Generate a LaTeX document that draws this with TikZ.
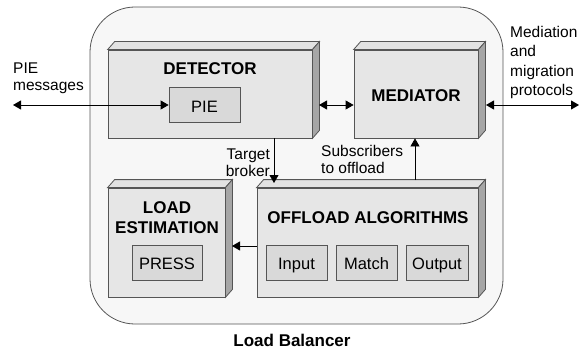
\documentclass[tikz,border=0pt]{standalone}
\usepackage{fontspec}
\setmainfont{Liberation Sans}
\usetikzlibrary{arrows.meta}
\definecolor{bgc}{HTML}{F7F7F7}
\definecolor{facec}{HTML}{E6E6E6}
\definecolor{topc}{HTML}{E2E2E2}
\definecolor{sidec}{HTML}{A6A6A6}
\definecolor{innerc}{HTML}{D9D9D9}
\definecolor{linec}{HTML}{555555}
\tikzset{
  box3d/.style={draw=linec, fill=facec, line width=0.8pt, inner sep=0pt},
  innerbox/.style={draw=linec, fill=innerc, line width=0.8pt, inner sep=0pt, font=\fontsize{16.5}{18}\selectfont},
  boldtxt/.style={font=\fontsize{17}{20}\selectfont\bfseries, inner sep=0pt},
  lbl/.style={font=\fontsize{15.5}{17}\selectfont, inner sep=0pt},
  conn/.style={line width=0.8pt, -{Triangle[length=8pt,width=9pt]}},
  bconn/.style={line width=0.8pt, {Triangle[length=8pt,width=9pt]}-{Triangle[length=8pt,width=9pt]}},
}
\newcommand{\faces}[1]{%
  \fill[topc,draw=linec,line width=0.8pt] (#1.north west) -- ([shift={(7,-8)}]#1.north west) -- ([shift={(7,-8)}]#1.north east) -- (#1.north east) -- cycle;
  \fill[sidec,draw=linec,line width=0.8pt] (#1.north east) -- ([shift={(7,-8)}]#1.north east) -- ([shift={(7,-8)}]#1.south east) -- (#1.south east) -- cycle;
}
\begin{document}
\begin{tikzpicture}[x=1pt,y=-1pt]
\useasboundingbox (0,0) rectangle (580,350);
% outer
\node[draw=linec, fill=bgc, line width=0.8pt, rounded corners=45pt, minimum width=413pt, minimum height=317pt, inner sep=0pt] (lb) at (296.5,165.5) {};
% boxes
\node[box3d, minimum width=204pt, minimum height=88pt] (det) at (210,94) {};
\faces{det}
\node[box3d, minimum width=124pt, minimum height=88pt] (med) at (416,94) {};
\faces{med}
\node[box3d, minimum width=117pt, minimum height=109pt] (lest) at (166.5,242.5) {};
\faces{lest}
\node[box3d, minimum width=221pt, minimum height=109pt] (off) at (367.5,242.5) {};
\faces{off}
% inner boxes
\node[innerbox, minimum width=71pt, minimum height=35pt] (pie) at (204.5,104.5) {};
\node[innerbox, minimum width=70pt, minimum height=35pt] (press) at (167,262.5) {};
\node[innerbox, minimum width=61pt, minimum height=35pt] (inp) at (296.5,262.5) {};
\node[innerbox, minimum width=61pt, minimum height=35pt] (mat) at (366.5,262.5) {};
\node[innerbox, minimum width=62pt, minimum height=35pt] (outp) at (437,262.5) {};
\node[innerbox, draw=none, fill=none, anchor=base] (tpie) at (204.5,112) {PIE};
\node[innerbox, draw=none, fill=none, anchor=base] (tpress) at (167,269) {PRESS};
\node[innerbox, draw=none, fill=none, anchor=base] (tinp) at (296.5,269) {Input};
\node[innerbox, draw=none, fill=none, anchor=base] (tmat) at (366.5,269) {Match};
\node[innerbox, draw=none, fill=none, anchor=base] (toutp) at (437,269) {Output};
% titles
\node[boldtxt, anchor=base] (tdet) at (210,75) {DETECTOR};
\node[boldtxt, anchor=base] (tmed) at (416,102) {MEDIATOR};
\node[boldtxt, anchor=base] (tle1) at (167,213) {LOAD};
\node[boldtxt, anchor=base] (tle2) at (167,233) {ESTIMATION};
\node[boldtxt, anchor=base] (toff) at (368,223) {OFFLOAD ALGORITHMS};
\node[boldtxt, anchor=base] (tlb) at (292,346) {Load Balancer};
% labels
\node[lbl, anchor=north west, align=left] (lpie) at (13,63) {PIE\\messages};
\node[lbl, anchor=north east, align=right] (ltb) at (270,149) {Target\\broker};
\node[lbl, anchor=north west, align=left] (lsub) at (321,145) {Subscribers\\to offload};
\node[lbl, anchor=north west, align=left, font=\fontsize{15.5}{19.3}\selectfont] (lmed) at (510,26) {Mediation\\and\\migration\\protocols};
% connectors
\coordinate (pl) at (13,105);
\draw[bconn] (pl) -- (pl -| pie.west);
\coordinate (dr) at (319,105);
\draw[bconn] (dr) -- (dr -| med.west);
\coordinate (mr) at (486,105);
\coordinate (er) at (579,105);
\draw[bconn] (mr) -- (er);
\coordinate (tb1) at (274,138);
\coordinate (tb2) at (274,183);
\draw[conn] (tb1) -- (tb2);
\coordinate (sb1) at (415,180);
\draw[conn] (sb1) -- (sb1 |- med.south);
\coordinate (ol) at (257,246);
\coordinate (lr) at (232,246);
\draw[conn] (ol) -- (lr);
\end{tikzpicture}
\end{document}
